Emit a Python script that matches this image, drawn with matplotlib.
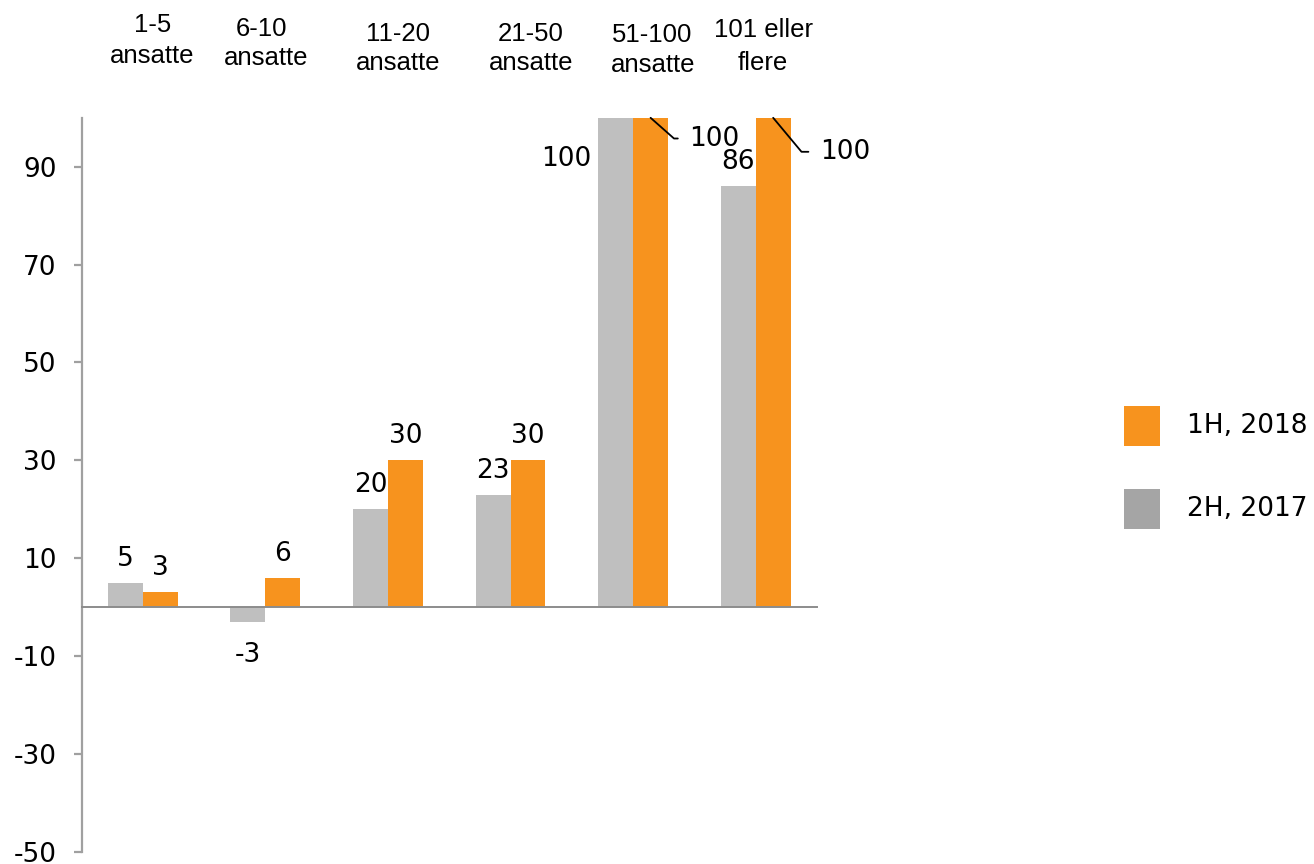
import matplotlib
matplotlib.use("Agg")
import matplotlib.pyplot as plt
from matplotlib.patches import Rectangle
import numpy as np

# ---- data ----
categories = ["1-5\nansatte", "6-10\nansatte", "11-20\nansatte",
              "21-50\nansatte", "51-100\nansatte", "101 eller\nflere"]
series_names = ["2H, 2017", "1H, 2018"]
h2_2017 = [5, -3, 20, 23, 100, 86]
h1_2018 = [3, 6, 30, 30, 100, 100]
yticks = [-50, -30, -10, 10, 30, 50, 70, 90]

GRAY = "#BFBFBF"
ORANGE = "#F7931E"
LEG_GRAY = "#A5A5A5"
AXIS = "#A0A0A0"

W, H = 1314, 864
fig = plt.figure(figsize=(W / 100, H / 100), dpi=100)
ax = fig.add_axes([81.5 / W, 1 - 851.7 / H, (817 - 81.5) / W, (851.7 - 117.8) / H])

x = np.arange(len(categories))
bw = 0.285
ax.bar(x - bw / 2, h2_2017, bw, color=GRAY, linewidth=0)
ax.bar(x + bw / 2, h1_2018, bw, color=ORANGE, linewidth=0)

ax.set_xlim(-0.5, len(categories) - 0.5)
ax.set_ylim(-50, 100)
ax.set_yticks(yticks)
ax.set_yticklabels([str(t) for t in yticks])
ax.set_xticks([])

FS = 19
for s in ["top", "right"]:
    ax.spines[s].set_visible(False)
ax.spines["left"].set_color(AXIS)
ax.spines["left"].set_linewidth(1.6)
ax.spines["bottom"].set_position(("data", 0))
ax.spines["bottom"].set_color("#8C8C8C")
ax.spines["bottom"].set_linewidth(1.4)
ax.tick_params(axis="y", direction="out", length=6, width=1.6, color=AXIS,
               pad=12, labelsize=FS, labelcolor="black")

# ---- value labels ----
def px(v):
    return v * 0.72  # pixels -> points at dpi 100

for i, v in enumerate(h2_2017):
    xc = x[i] - bw / 2
    if v >= 100:
        ax.annotate(str(v), xy=(x[i] - bw, 100), xytext=(px(-7), px(-48)),
                    textcoords="offset points", ha="right", va="baseline",
                    fontsize=FS, annotation_clip=False)
    elif v >= 0:
        ax.annotate(str(v), xy=(xc, v), xytext=(0, px(17)),
                    textcoords="offset points", ha="center", va="baseline",
                    fontsize=FS)
    else:
        ax.annotate(str(v), xy=(xc, v), xytext=(0, px(-40)),
                    textcoords="offset points", ha="center", va="baseline",
                    fontsize=FS)

leader = {4: ((39, -20.7), -41.5), 5: ((47, -34), -50.2)}
for i, v in enumerate(h1_2018):
    xc = x[i] + bw / 2
    if v >= 100:
        (dx, dy), ang = leader[i]
        ax.annotate(str(v), xy=(xc, 100), xytext=(px(dx), px(dy)),
                    textcoords="offset points", ha="left", va="center",
                    fontsize=FS, annotation_clip=False,
                    arrowprops=dict(arrowstyle="-", color="black", lw=1.3,
                                    relpos=(0, 0.5), shrinkA=px(9), shrinkB=0,
                                    connectionstyle=f"angle,angleA=0,angleB={ang},rad=0"))
    else:
        ax.annotate(str(v), xy=(xc, v), xytext=(0, px(17)),
                    textcoords="offset points", ha="center", va="baseline",
                    fontsize=FS)

# ---- category labels along the top ----
cat_pos = [(153, 31.7, 151.7, 63.3), (261.7, 35.7, 265.8, 65),
           (398, 41, 398, 70), (531, 41, 531, 70),
           (652, 41.7, 653, 71.7), (763, 37.3, 763, 70)]
for lab, (x1, y1, x2, y2) in zip(categories, cat_pos):
    l1, l2 = lab.split("\n")
    fig.text(x1 / W, 1 - y1 / H, l1, ha="center", va="baseline",
             fontsize=18.5, family="Liberation Sans")
    fig.text(x2 / W, 1 - y2 / H, l2, ha="center", va="baseline",
             fontsize=18.5, family="Liberation Sans")

# ---- legend (manual) ----
leg = [(series_names[1], ORANGE, 406), (series_names[0], LEG_GRAY, 489)]
for name, col, ytop in leg:
    fig.add_artist(Rectangle((1124 / W, 1 - (ytop + 40) / H), 36 / W, 40 / H,
                             transform=fig.transFigure, facecolor=col,
                             edgecolor="none"))
    fig.text(1187 / W, 1 - (ytop + 20) / H, name, ha="left", va="center",
             fontsize=FS)

fig.savefig("out.png", dpi=100)
